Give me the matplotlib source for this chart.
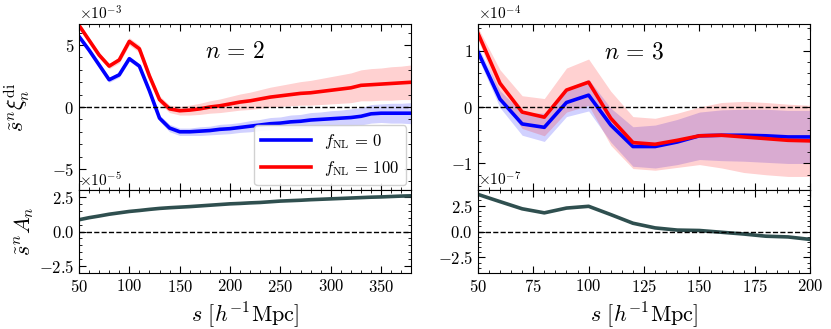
import matplotlib
matplotlib.use("Agg")
import matplotlib.pyplot as plt
import numpy as np
from matplotlib.ticker import AutoMinorLocator, MultipleLocator

plt.rcParams['font.family'] = 'serif'
plt.rcParams['font.serif'] = ['cmr10', 'DejaVu Serif']
plt.rcParams['mathtext.fontset'] = 'cm'
plt.rcParams['axes.formatter.use_mathtext'] = True
plt.rcParams['axes.unicode_minus'] = True

# n = 2 panel (values in units of 1e-3, A_n in 1e-5)
s2 = [50, 60, 70, 80, 90, 100, 110, 120, 130, 140, 150, 160, 170, 180, 190, 200, 210,
      220, 230, 240, 250, 260, 270, 280, 290, 300, 310, 320, 330, 340, 350, 360, 370, 380]
xi2_f0 = [5.7, 4.6, 3.4, 2.2, 2.6, 3.9, 3.3, 1.3, -0.9, -1.7, -2.0, -2.0, -1.95, -1.9, -1.8,
          -1.75, -1.65, -1.55, -1.45, -1.35, -1.3, -1.2, -1.15, -1.05, -1.0, -0.95, -0.9,
          -0.85, -0.75, -0.55, -0.5, -0.5, -0.5, -0.5]
xi2_f100 = [6.6, 5.4, 4.2, 3.3, 3.8, 5.3, 4.7, 2.5, 0.6, -0.15, -0.3, -0.25, -0.15, 0.0, 0.1,
            0.25, 0.4, 0.5, 0.65, 0.8, 0.9, 1.0, 1.1, 1.15, 1.25, 1.35, 1.45, 1.55, 1.75,
            1.8, 1.85, 1.9, 1.95, 2.0]
err2_f0 = [0.2, 0.2, 0.2, 0.2, 0.2, 0.2, 0.2, 0.25, 0.25, 0.3, 0.3, 0.3, 0.35, 0.35, 0.4, 0.4,
           0.4, 0.45, 0.45, 0.5, 0.5, 0.55, 0.55, 0.6, 0.6, 0.65, 0.65, 0.7, 0.7, 0.75, 0.75,
           0.8, 0.8, 0.85]
err2_f100 = [0.2, 0.2, 0.2, 0.2, 0.25, 0.3, 0.3, 0.3, 0.3, 0.3, 0.35, 0.4, 0.45, 0.5, 0.55,
             0.6, 0.65, 0.7, 0.75, 0.8, 0.85, 0.9, 0.95, 1.0, 1.05, 1.1, 1.15, 1.2, 1.25, 1.3,
             1.3, 1.35, 1.35, 1.4]
A2 = [0.85, 1.0, 1.12, 1.25, 1.35, 1.45, 1.52, 1.6, 1.67, 1.72, 1.76, 1.8, 1.85, 1.9, 1.95,
      2.0, 2.03, 2.07, 2.1, 2.15, 2.2, 2.23, 2.26, 2.3, 2.33, 2.36, 2.39, 2.42, 2.45, 2.48,
      2.5, 2.53, 2.56, 2.58]

# n = 3 panel (values in units of 1e-4, A_n in 1e-7)
s3 = [50, 60, 70, 80, 90, 100, 110, 120, 130, 140, 150, 160, 170, 180, 190, 200]
xi3_f0 = [0.98, 0.14, -0.3, -0.36, 0.08, 0.21, -0.32, -0.7, -0.7, -0.62, -0.51, -0.5, -0.5,
          -0.51, -0.53, -0.53]
xi3_f100 = [1.31, 0.42, -0.09, -0.18, 0.3, 0.44, -0.2, -0.63, -0.66, -0.59, -0.51, -0.5,
            -0.53, -0.56, -0.59, -0.6]
err3_f0 = [0.1, 0.15, 0.2, 0.25, 0.25, 0.28, 0.3, 0.35, 0.38, 0.4, 0.42, 0.45, 0.46, 0.47,
           0.47, 0.47]
err3_f100 = [0.1, 0.24, 0.29, 0.33, 0.39, 0.41, 0.48, 0.46, 0.46, 0.48, 0.51, 0.58, 0.63,
             0.64, 0.64, 0.63]
A3 = [3.58, 2.88, 2.19, 1.8, 2.26, 2.43, 1.63, 0.8, 0.35, 0.14, 0.1, -0.07, -0.24, -0.45,
      -0.52, -0.76]


def style_axis(ax, xmajor, xminor):
    ax.tick_params(which='both', direction='in', top=True, right=True, labelsize=12)
    ax.tick_params(which='major', length=5)
    ax.tick_params(which='minor', length=2.5)
    ax.xaxis.set_major_locator(MultipleLocator(xmajor))
    ax.xaxis.set_minor_locator(MultipleLocator(xminor))
    ax.yaxis.set_minor_locator(AutoMinorLocator())
    ax.ticklabel_format(axis='y', style='sci', scilimits=(0, 0), useMathText=True)
    ax.yaxis.get_offset_text().set_fontsize(11)


fig = plt.figure(figsize=(8.31, 3.29), dpi=100)

panels = [
    (0.095, s2, xi2_f0, xi2_f100, err2_f0, err2_f100, A2, 1e-3, 1e-5, 6.7, 3.0, 50, 10, r'$n\,=\,2$'),
    (0.575, s3, xi3_f0, xi3_f100, err3_f0, err3_f100, A3, 1e-4, 1e-7, 1.47, 4.0, 25, 5, r'$n\,=\,3$'),
]

for i, (x0, s, f0, f100, e0, e100, A, sc, sca, ylim_top, ylim_bot, xmaj, xmin, title) in enumerate(panels):
    s = np.array(s)
    f0 = np.array(f0) * sc
    f100 = np.array(f100) * sc
    e0 = np.array(e0) * sc
    e100 = np.array(e100) * sc
    A = np.array(A) * sca

    ax_top = fig.add_axes([x0, 0.4225, 0.4, 0.5045])
    ax_bot = fig.add_axes([x0, 0.170, 0.4, 0.2525], sharex=ax_top)

    ax_top.fill_between(s, f0 - e0, f0 + e0, color='blue', alpha=0.18, lw=0)
    ax_top.fill_between(s, f100 - e100, f100 + e100, color='red', alpha=0.18, lw=0)
    ax_top.plot(s, f0, color='blue', lw=2.6, label=r'$f_{\rm NL}\,=\,0$')
    ax_top.plot(s, f100, color='red', lw=2.6, label=r'$f_{\rm NL}\,=\,100$')
    ax_top.axhline(0, color='k', ls='--', lw=1)
    ax_top.set_ylim(-ylim_top * sc, ylim_top * sc)
    ax_top.set_xlim(s[0], s[-1])
    ax_top.text(0.47, 0.83, title, transform=ax_top.transAxes, fontsize=17,
                ha='center', va='center')
    style_axis(ax_top, xmaj, xmin)
    plt.setp(ax_top.get_xticklabels(), visible=False)

    ax_bot.plot(s, A, color='darkslategray', lw=2.6)
    ax_bot.axhline(0, color='k', ls='--', lw=1)
    ax_bot.set_ylim(-ylim_bot * sca, ylim_bot * sca)
    ax_bot.set_yticks(np.array([-2.5, 0.0, 2.5]) * sca)
    style_axis(ax_bot, xmaj, xmin)
    ax_bot.set_xlabel(r'$s\ [h^{-1}{\rm Mpc}]$', fontsize=16)

    if i == 0:
        ax_top.set_ylabel(r'$\tilde{s}^n\xi_n^{\rm di}$', fontsize=16)
        ax_bot.set_ylabel(r'$\tilde{s}^nA_n$', fontsize=16)
        ax_top.yaxis.set_label_coords(-0.14, 0.5)
        ax_bot.yaxis.set_label_coords(-0.128, 0.5)
        ax_top.legend(loc='lower right', fontsize=12, handlelength=3.0, framealpha=0.9,
                      borderaxespad=0.3)

fig.savefig('out.png', dpi=100)
